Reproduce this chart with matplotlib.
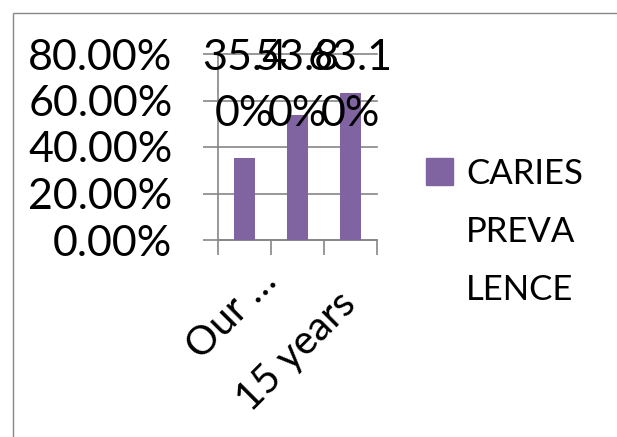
import matplotlib
matplotlib.use('Agg')
import matplotlib.pyplot as plt
import matplotlib.transforms as mtransforms
from matplotlib.patches import Patch, Rectangle
from matplotlib.ticker import PercentFormatter

# data
x_labels = ['Our \u2026', '', '15 years']
values = [0.354, 0.538, 0.631]
legend_lines = ['CARIES', 'PREVA', 'LENCE']
y_ticks = [0.0, 0.2, 0.4, 0.6, 0.8]

FS = 31       # axis / data label size
FS_X = 29     # category labels
FS_LEG = 25   # legend
GRAY = '#868686'
PURPLE = '#8064A2'

plt.rcParams['font.family'] = ['Lato', 'DejaVu Sans']

fig = plt.figure(figsize=(6.17, 4.37), dpi=100)
W, H = 617, 437

# outer chart border (cut off on the right and bottom)
top = 1 - 12.7 / H
fig.add_artist(Rectangle((12.7 / W, -0.2), 1.2, top + 0.2,
                         transform=fig.transFigure, fill=False,
                         ec='#898989', lw=1.0))

ax = fig.add_axes([218 / W, 1 - 240 / H, 159 / W, 186 / H])
xs = list(range(len(values)))
ax.bar(xs, values, width=0.4, color=PURPLE, zorder=3)

ax.set_xlim(-0.5, len(values) - 0.5)
ax.set_ylim(y_ticks[0], y_ticks[-1])
ax.set_yticks(y_ticks)
ax.yaxis.set_major_formatter(PercentFormatter(xmax=1, decimals=2))
ax.grid(axis='y', color=GRAY, lw=1.2, zorder=0, clip_on=False)
for s in ['top', 'right']:
    ax.spines[s].set_visible(False)
for s in ['left', 'bottom']:
    ax.spines[s].set_color(GRAY)
    ax.spines[s].set_linewidth(1.2)
ax.tick_params(axis='y', length=10.8, width=1.2, color=GRAY, pad=22,
               labelsize=FS)

# category boundaries carry the tick marks, centres carry the labels
ax.set_xticks([i - 0.5 for i in range(len(values) + 1)])
ax.set_xticklabels([])
ax.tick_params(axis='x', which='major', length=10.8, width=1.2, color=GRAY)
ax.set_xticks(xs, minor=True)
ax.set_xticklabels(x_labels, minor=True, rotation=45, ha='right', va='top',
                   rotation_mode='anchor', fontsize=FS_X)
ax.tick_params(axis='x', which='minor', length=0, pad=12)

# nudge the rotated labels to where the original puts them
shifts = [(0.13, -0.05), (0, 0), (-0.14, -0.28)]
for lab, (dx, dy) in zip(ax.xaxis.get_minorticklabels(), shifts):
    lab.set_transform(lab.get_transform() +
                      mtransforms.ScaledTranslation(dx, dy, fig.dpi_scale_trans))

# data labels (wrapped like the original)
trans = mtransforms.blended_transform_factory(ax.transData, ax.transAxes)
for i, v in enumerate(values):
    s = f'{v * 100:.2f}%'
    ax.text(i, 1.083, s[:4] + '\n' + s[4:], transform=trans, ha='center',
            va='top', fontsize=FS, linespacing=1.59, zorder=5)

handles = [Patch(color=PURPLE)] + [Patch(fc='none', ec='none')] * 2
fig.legend(handles, legend_lines, loc='upper left',
           bbox_to_anchor=(426 / W, 1 - 157.6 / H), frameon=False,
           fontsize=FS_LEG, handlelength=0.78, handleheight=0.78,
           handletextpad=0.38, labelspacing=0.75, borderpad=0,
           borderaxespad=0)

fig.savefig('out.png', dpi=100)
